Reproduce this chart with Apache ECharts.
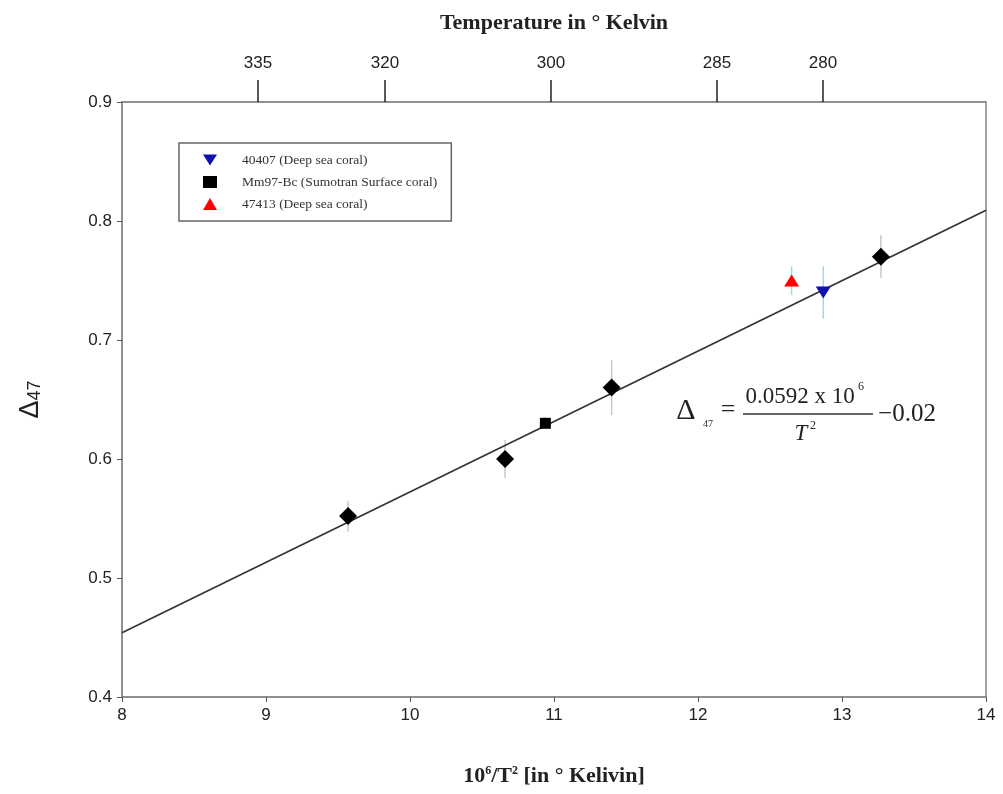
<!DOCTYPE html>
<html><head><meta charset="utf-8">
<script src="https://cdn.jsdelivr.net/npm/echarts@6/dist/echarts.min.js"></script>
<style>html,body{margin:0;padding:0;background:#fff}#c{width:1003px;height:794px}</style>
</head><body><div id="c"></div>
<script>
// ---- data ----
const calibX = [9.57, 10.66, 11.40, 13.27];
const calibY = [0.552, 0.600, 0.660, 0.770];
const calibErr = [0.013, 0.016, 0.023, 0.018];

const coral40407X = [12.87];
const coral40407Y = [0.740];
const coral40407Err = [0.022];

const mm97X = [10.94];
const mm97Y = [0.630];
const mm97Err = [0.005];

const coral47413X = [12.65];
const coral47413Y = [0.750];
const coral47413Err = [0.012];

const fitX = [8, 14];
const fitY = [0.454, 0.809];

const topTickPos = [8.944, 9.826, 10.979, 12.132, 12.868];
const topTickLabels = ['335', '320', '300', '285', '280'];

const legendNames = ['40407 (Deep sea coral)', 'Mm97-Bc (Sumotran Surface coral)', '47413 (Deep sea coral)'];

// ---- helpers ----
const pts = (xs, ys) => xs.map((x, i) => [x, ys[i]]);
function errSeries(xs, ys, es, color) {
  return {
    type: 'custom', silent: true, z: 1,
    data: xs.map((x, i) => [x, ys[i] - es[i], ys[i] + es[i]]),
    encode: { x: 0, y: [1, 2] },
    renderItem: (p, api) => {
      const a = api.coord([api.value(0), api.value(1)]);
      const b = api.coord([api.value(0), api.value(2)]);
      return { type: 'line', shape: { x1: a[0], y1: a[1], x2: b[0], y2: b[1] },
               style: { stroke: color, lineWidth: 1.5 } };
    }
  };
}
const serif = '"Liberation Serif", "Times New Roman", serif';
const sans = '"Liberation Sans", Arial, sans-serif';
const downTri = 'path://M0,0 L10,0 L5,8 Z';

const chart = echarts.init(document.getElementById('c'), null, { renderer: 'canvas' });
chart.setOption({
  animation: false,
  backgroundColor: '#fff',
  grid: { left: 122, right: 17, top: 102, bottom: 97, show: true, borderColor: '#888', borderWidth: 1.5 },
  legend: {
    data: [
      { name: legendNames[0], icon: downTri, itemStyle: { color: '#1010b0', opacity: 1 } },
      { name: legendNames[1], itemStyle: { color: '#000', opacity: 1 } },
      { name: legendNames[2], itemStyle: { color: '#ff0000', opacity: 1 } }
    ],
    orient: 'vertical',
    left: 179, top: 143,
    padding: [9, 14, 9, 24],
    itemWidth: 14, itemHeight: 12, itemGap: 6,
    borderColor: '#666', borderWidth: 1.5,
    textStyle: { fontFamily: serif, fontSize: 13.5, color: '#333', lineHeight: 16, padding: [0, 0, 0, 20] }
  },
  xAxis: [{
    type: 'value', min: 8, max: 14, interval: 1, position: 'bottom',
    axisLine: { show: true, onZero: false, lineStyle: { color: '#888', width: 1.5 } },
    axisTick: { show: true, length: 5, lineStyle: { color: '#555' } },
    splitLine: { show: false },
    axisLabel: { fontFamily: sans, fontSize: 17, color: '#222', margin: 10 },
    name: '10{sup|6}/T{sup|2} [in ° Kelivin]',
    nameLocation: 'middle', nameGap: 68,
    nameTextStyle: { fontFamily: serif, fontWeight: 'bold', fontSize: 22, color: '#222',
      rich: { sup: { fontFamily: serif, fontWeight: 'bold', fontSize: 12, verticalAlign: 'top', padding: [0, 0, 10, 0] } } }
  }, {
    type: 'value', min: 8, max: 14, position: 'top',
    axisLine: { show: true, onZero: false, lineStyle: { color: '#888', width: 1.5 } },
    axisTick: { show: true, length: 22, customValues: topTickPos, lineStyle: { color: '#222', width: 1.5 } },
    axisLabel: { show: true, customValues: topTickPos, fontFamily: sans, fontSize: 17, color: '#222', margin: 30,
      formatter: v => { const i = topTickPos.findIndex(t => Math.abs(t - v) < 1e-6); return i >= 0 ? topTickLabels[i] : ''; } },
    splitLine: { show: false },
    name: 'Temperature in ° Kelvin',
    nameLocation: 'middle', nameGap: 68,
    nameTextStyle: { fontFamily: serif, fontWeight: 'bold', fontSize: 22, color: '#222' }
  }],
  yAxis: [{
    type: 'value', min: 0.4, max: 0.9, interval: 0.1,
    axisLine: { show: true, onZero: false, lineStyle: { color: '#888', width: 1.5 } },
    axisTick: { show: true, length: 5, lineStyle: { color: '#555' } },
    splitLine: { show: false },
    axisLabel: { fontFamily: sans, fontSize: 17, color: '#222', margin: 10, formatter: v => v.toFixed(1) },
    name: '{d|Δ}{s|47}',
    nameLocation: 'middle', nameGap: 78, nameRotate: 90,
    nameTextStyle: { color: '#222',
      rich: { d: { fontFamily: sans, fontSize: 27, color: '#222' },
              s: { fontFamily: sans, fontSize: 18, color: '#222', verticalAlign: 'bottom', padding: [8, 0, 0, 0] } } }
  }],
  series: [
    errSeries(calibX, calibY, calibErr, '#c8c8c8'),
    errSeries(coral40407X, coral40407Y, coral40407Err, '#a8d4f0'),
    errSeries(mm97X, mm97Y, mm97Err, '#c8c8c8'),
    errSeries(coral47413X, coral47413Y, coral47413Err, '#7fe8e8'),
    { type: 'line', name: 'fit', data: pts(fitX, fitY), symbol: 'none', z: 2,
      lineStyle: { color: '#333', width: 1.7 } },
    { type: 'scatter', name: 'calibration', data: pts(calibX, calibY), symbol: 'diamond', symbolSize: [18, 18], z: 3,
      itemStyle: { color: '#000', opacity: 1 } },
    { type: 'scatter', name: legendNames[0], data: pts(coral40407X, coral40407Y), symbol: downTri,
      symbolSize: [15, 12], z: 3, itemStyle: { color: '#1010b0', opacity: 1 } },
    { type: 'scatter', name: legendNames[1], data: pts(mm97X, mm97Y), symbol: 'rect', symbolSize: 11, z: 3,
      itemStyle: { color: '#000', opacity: 1 } },
    { type: 'scatter', name: legendNames[2], data: pts(coral47413X, coral47413Y), symbol: 'triangle',
      symbolSize: [15, 12], z: 3, itemStyle: { color: '#ff0000', opacity: 1 } }
  ],
  graphic: [
    { type: 'text', style: { text: 'Δ', x: 686, y: 411, align: 'center', verticalAlign: 'middle', font: '30px ' + serif, fill: '#222' } },
    { type: 'text', style: { text: '47', x: 708, y: 424, align: 'center', verticalAlign: 'middle', font: '10px ' + serif, fill: '#333' } },
    { type: 'text', style: { text: '=', x: 728, y: 410, align: 'center', verticalAlign: 'middle', font: '26px ' + serif, fill: '#222' } },
    { type: 'text', style: { text: '0.0592 x 10', x: 800, y: 397, align: 'center', verticalAlign: 'middle', font: '23px ' + serif, fill: '#222' } },
    { type: 'text', style: { text: '6', x: 861, y: 387, align: 'center', verticalAlign: 'middle', font: '12px ' + serif, fill: '#222' } },
    { type: 'line', shape: { x1: 743, y1: 414, x2: 873, y2: 414 }, style: { stroke: '#333', lineWidth: 1.3 } },
    { type: 'text', style: { text: 'T', x: 801, y: 434, align: 'center', verticalAlign: 'middle', font: 'italic 23px ' + serif, fill: '#222' } },
    { type: 'text', style: { text: '2', x: 813, y: 426, align: 'center', verticalAlign: 'middle', font: '12px ' + serif, fill: '#222' } },
    { type: 'text', style: { text: '−0.02', x: 907, y: 414, align: 'center', verticalAlign: 'middle', font: '25px ' + serif, fill: '#222' } }
  ]
});
</script>
</body></html>
